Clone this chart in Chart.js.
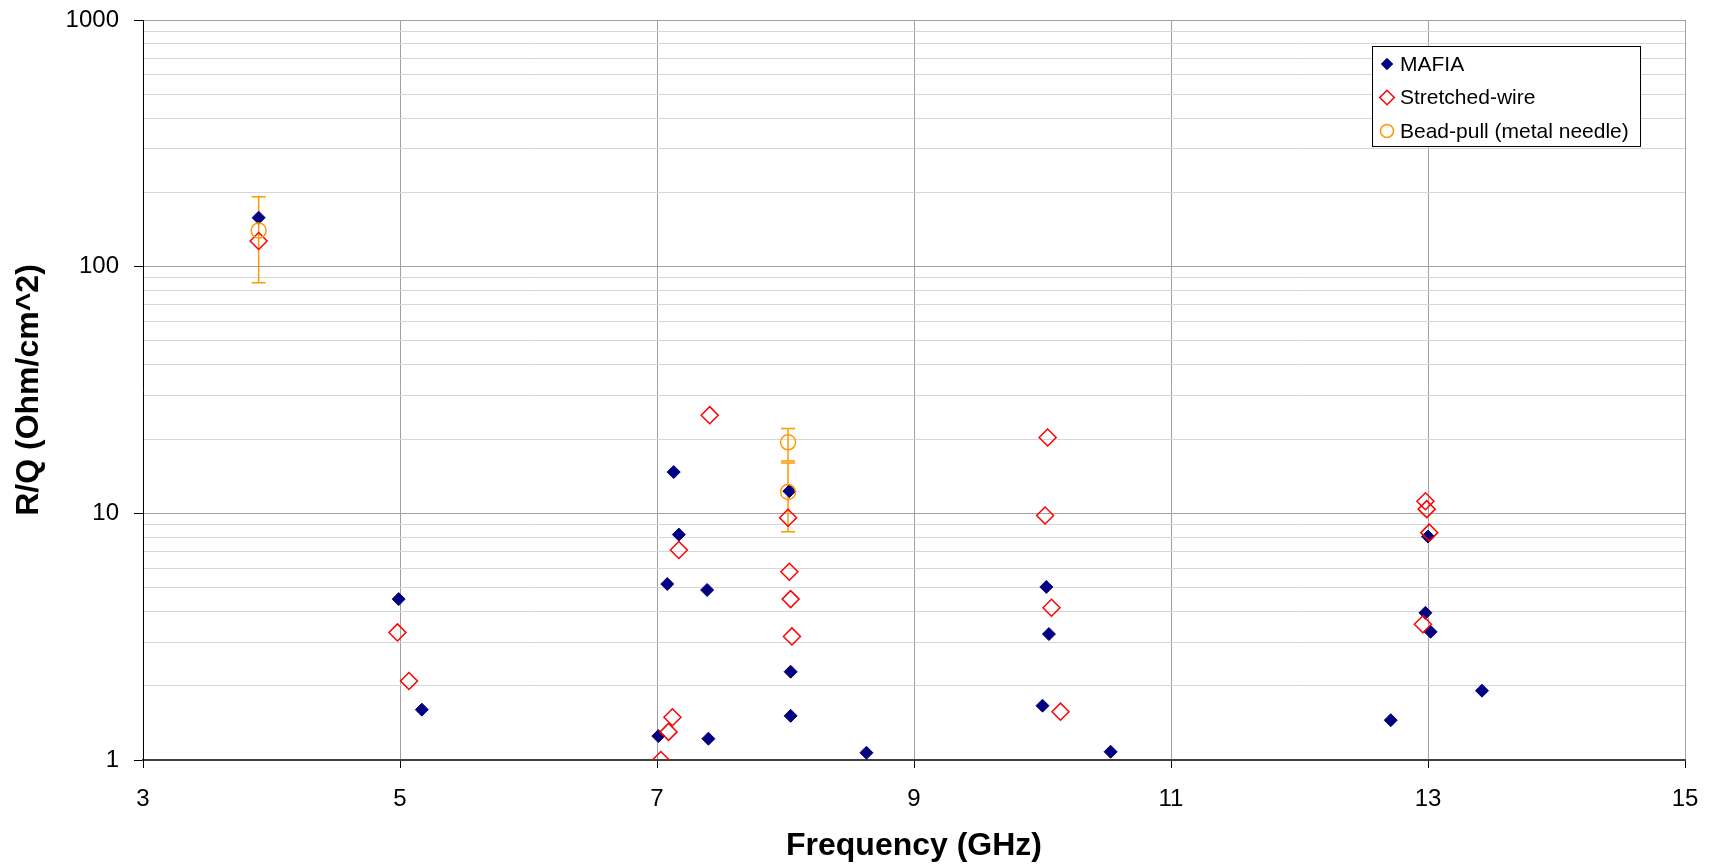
<!DOCTYPE html>
<html>
<head>
<meta charset="utf-8">
<title>R/Q x Frequência</title>
<script src="https://cdn.jsdelivr.net/npm/chart.js@4/dist/chart.umd.min.js"></script>
<style>
  html, body { margin: 0; padding: 0; background: #fff; }
  #caixa { width: 1711px; height: 868px; }
</style>
</head>
<body>
<div id="caixa"><canvas id="graficoRQ"></canvas></div>
<script>
// Simulação MAFIA
const mafiaFreq = [3.90, 4.99, 5.17, 7.01, 7.08, 7.13, 7.17, 7.39, 7.40, 8.03, 8.04, 8.04, 8.63, 10.00, 10.03, 10.05, 10.53, 12.71, 12.98, 13.00, 13.02, 13.42];
const mafiaRQ   = [158, 4.49, 1.60, 1.25, 5.17, 14.7, 8.2, 4.89, 1.22, 12.3, 2.28, 1.51, 1.07, 1.66, 5.03, 3.24, 1.08, 1.45, 3.95, 8.05, 3.31, 1.91];

// Medidas com fio esticado
const fioFreq = [3.90, 4.98, 5.07, 7.03, 7.09, 7.12, 7.17, 7.41, 8.02, 8.03, 8.04, 8.05, 10.02, 10.04, 10.07, 10.14, 12.96, 12.98, 12.99, 13.01];
const fioRQ   = [127, 3.29, 2.09, 1.0, 1.30, 1.49, 7.1, 25, 9.6, 5.8, 4.49, 3.17, 9.8, 20.3, 4.14, 1.57, 3.55, 11.2, 10.4, 8.35];

// Bead-pull (agulha metálica) com barras de erro
const beadFreq = [3.90, 8.02, 8.02];
const beadRQ   = [140, 19.4, 12.2];
const beadMin  = [86, 16.3, 8.43];
const beadMax  = [192, 22.1, 16.0];

// Marcas dos eixos
const xTicks = [3, 5, 7, 9, 11, 13, 15];
const yTicks = [1, 2, 3, 4, 5, 6, 7, 8, 9, 10, 20, 30, 40, 50, 60, 70, 80, 90, 100, 200, 300, 400, 500, 600, 700, 800, 900, 1000];

const fonte = '"Liberation Sans", Arial, sans-serif';
const pontos = (xs, ys) => xs.map((x, i) => ({ x: x, y: ys[i] }));
const ehDecada = (v) => Math.abs(Math.log10(v) - Math.round(Math.log10(v))) < 1e-9;

// Barras de erro do bead-pull
const barrasErro = {
  id: "barrasErro",
  beforeDatasetsDraw(chart) {
    const { ctx, chartArea, scales } = chart;
    ctx.save();
    ctx.beginPath();
    ctx.rect(chartArea.left, chartArea.top, chartArea.width, chartArea.height);
    ctx.clip();
    ctx.strokeStyle = "#FF9900";
    ctx.lineWidth = 1.5;
    beadFreq.forEach((f, i) => {
      const px = scales.x.getPixelForValue(f);
      const yTopo = scales.y.getPixelForValue(beadMax[i]);
      const yBase = scales.y.getPixelForValue(beadMin[i]);
      ctx.beginPath();
      ctx.moveTo(px, yTopo);
      ctx.lineTo(px, yBase);
      ctx.moveTo(px - 7, yTopo);
      ctx.lineTo(px + 7, yTopo);
      ctx.moveTo(px - 7, yBase);
      ctx.lineTo(px + 7, yBase);
      ctx.stroke();
    });
    ctx.restore();
  },
};

// Legenda dentro da área do gráfico
const legendaInterna = {
  id: "legendaInterna",
  afterDraw(chart) {
    const { ctx, chartArea } = chart;
    const x0 = chartArea.right - 313;
    const y0 = chartArea.top + 26;
    const larg = 268;
    const alt = 100;
    ctx.save();
    ctx.fillStyle = "#fff";
    ctx.fillRect(x0, y0, larg, alt);
    ctx.strokeStyle = "#000";
    ctx.lineWidth = 1;
    ctx.strokeRect(x0 + 0.5, y0 + 0.5, larg, alt);

    const tamanhos = [5.7, 7.3, 6.5];
    chart.data.datasets.forEach((ds, linha) => {
      const cy = y0 + 18 + linha * 33.5;
      ctx.fillStyle = ds.backgroundColor;
      ctx.strokeStyle = ds.borderColor;
      ctx.lineWidth = ds.borderWidth;
      Chart.helpers.drawPoint(ctx, { pointStyle: ds.pointStyle, radius: tamanhos[linha], borderWidth: ds.borderWidth, rotation: 0 }, x0 + 15, cy);
      ctx.fillStyle = "#000";
      ctx.font = "21px " + fonte;
      ctx.textAlign = "left";
      ctx.textBaseline = "middle";
      ctx.fillText(ds.label, x0 + 28, cy + 1);
    });
    ctx.restore();
  },
};

const config = {
  type: "scatter",
  data: {
    datasets: [
      {
        label: "MAFIA",
        data: pontos(mafiaFreq, mafiaRQ),
        pointStyle: "rectRot",
        pointRadius: 6.5,
        backgroundColor: "#000080",
        borderColor: "#000080",
        borderWidth: 1,
        order: 3,
      },
      {
        label: "Stretched-wire",
        data: pontos(fioFreq, fioRQ),
        pointStyle: "rectRot",
        pointRadius: 8.5,
        backgroundColor: "rgba(0,0,0,0)",
        borderColor: "#FF0000",
        borderWidth: 1.5,
        order: 2,
      },
      {
        label: "Bead-pull (metal needle)",
        data: pontos(beadFreq, beadRQ),
        pointStyle: "circle",
        pointRadius: 7.5,
        backgroundColor: "rgba(0,0,0,0)",
        borderColor: "#FF9900",
        borderWidth: 1.5,
        order: 1,
      },
    ],
  },
  options: {
    responsive: true,
    maintainAspectRatio: false,
    animation: false,
    layout: { padding: { left: 0, top: 20, right: 26, bottom: 0 } },
    plugins: {
      legend: { display: false },
      tooltip: { enabled: false },
    },
    scales: {
      x: {
        type: "linear",
        min: 3,
        max: 15,
        afterBuildTicks: (scale) => {
          scale.ticks = xTicks.map((v) => ({ value: v }));
        },
        afterFit: (scale) => {
          scale.height = 108;
          scale.paddingLeft = 0;
          scale.paddingRight = 0;
        },
        ticks: {
          autoSkip: false,
          maxRotation: 0,
          padding: 17,
          color: "#000",
          font: { family: fonte, size: 24 },
        },
        grid: {
          color: "#a0a0a0",
          lineWidth: 1,
          tickLength: 8,
          tickColor: "#000",
        },
        border: { color: "#404040", width: 2 },
        title: {
          display: true,
          text: "Frequency (GHz)",
          color: "#000",
          font: { family: fonte, size: 32, weight: "bold" },
          padding: { top: 0, bottom: 3 },
        },
      },
      y: {
        type: "logarithmic",
        min: 1,
        max: 1000,
        afterBuildTicks: (scale) => {
          scale.ticks = yTicks.map((v) => ({ value: v }));
        },
        afterFit: (scale) => {
          scale.width = 143;
          scale.paddingTop = 0;
          scale.paddingBottom = 0;
        },
        ticks: {
          autoSkip: false,
          padding: 15,
          color: "#000",
          font: { family: fonte, size: 24 },
          callback: (v) => (ehDecada(v) ? String(v) : ""),
        },
        grid: {
          color: (c) => (c.tick && ehDecada(c.tick.value) ? "#a0a0a0" : "#d6d6d6"),
          lineWidth: 1,
          tickLength: 9,
          tickColor: (c) => (c.tick && ehDecada(c.tick.value) ? "#000" : "rgba(0,0,0,0)"),
        },
        border: { color: "#000", width: 1 },
        title: {
          display: true,
          text: "R/Q (Ohm/cm^2)",
          color: "#000",
          font: { family: fonte, size: 32, weight: "bold" },
          padding: { top: 10, bottom: 0 },
        },
      },
    },
  },
  plugins: [barrasErro, legendaInterna],
};

const ctx = document.getElementById("graficoRQ").getContext("2d");
const graficoRQ = new Chart(ctx, config);
</script>
</body>
</html>
